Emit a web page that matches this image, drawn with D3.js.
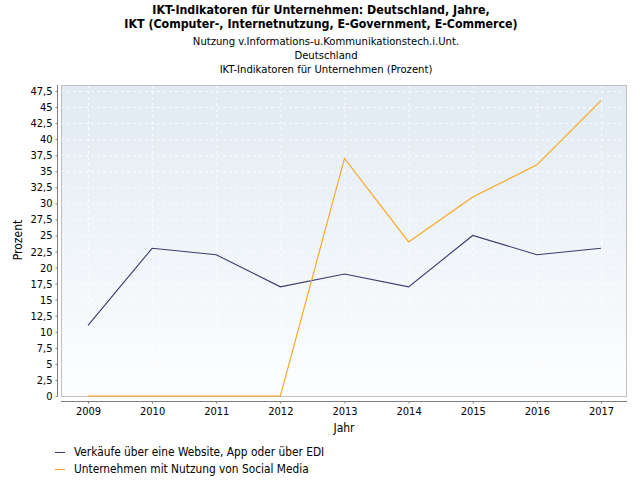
<!DOCTYPE html>
<html><head><meta charset="utf-8">
<script src="https://cdn.jsdelivr.net/npm/d3@7"></script>
<style>
body{margin:0;background:#fff;}
svg text{font-family:"DejaVu Sans Condensed","DejaVu Sans",sans-serif;font-stretch:condensed;fill:#000;}
</style></head>
<body>
<svg id="c" width="640" height="480"></svg>
<script>
const years = [2009,2010,2011,2012,2013,2014,2015,2016,2017];
const seriesNames = ["Verkäufe über eine Website, App oder über EDI","Unternehmen mit Nutzung von Social Media"];
const verkaeufe = [11,23,22,17,19,17,25,22,23];
const socialMedia = [0,0,0,0,37,24,31,36,46];
const yTicks = [0,2.5,5,7.5,10,12.5,15,17.5,20,22.5,25,27.5,30,32.5,35,37.5,40,42.5,45,47.5];
const titleLines = ["IKT-Indikatoren für Unternehmen: Deutschland, Jahre,","IKT (Computer-, Internetnutzung, E-Government, E-Commerce)"];
const subLines = ["Nutzung v.Informations-u.Kommunikationstech.i.Unt.","Deutschland","IKT-Indikatoren für Unternehmen (Prozent)"];
const colors = ["#3a3a6e","#faa31e"];

const svg = d3.select("#c");
const L=61,R=627,T=85,B=396;
const x = d3.scalePoint().domain(years).range([88,601]);
const y = d3.scaleLinear().domain([0,48.43]).range([B,T]);

// titles
titleLines.forEach((t,i)=>svg.append("text").attr("x",321).attr("y",14+i*14).attr("text-anchor","middle")
  .attr("font-size","12.3px").attr("font-weight","bold").text(t));
subLines.forEach((t,i)=>svg.append("text").attr("x",326).attr("y",45+i*14).attr("text-anchor","middle")
  .attr("font-size","11.2px").text(t));

// background gradient
const defs=svg.append("defs");
const g=defs.append("linearGradient").attr("id","bg").attr("x1",0).attr("y1",0).attr("x2",0).attr("y2",1);
g.append("stop").attr("offset","0%").attr("stop-color","#e1eaf2");
g.append("stop").attr("offset","100%").attr("stop-color","#fdfeff");
svg.append("rect").attr("x",L).attr("y",T).attr("width",R-L).attr("height",B-T).attr("fill","url(#bg)");

// grid
svg.append("g").selectAll("line").data(yTicks).join("line")
  .attr("x1",L).attr("x2",R).attr("y1",d=>y(d)+0.5).attr("y2",d=>y(d)+0.5)
  .attr("stroke","#ffffff").attr("stroke-opacity",0.8).attr("stroke-dasharray","3,3").attr("stroke-width",1);
svg.append("g").selectAll("line").data(years).join("line")
  .attr("y1",T).attr("y2",B).attr("x1",d=>x(d)+0.5).attr("x2",d=>x(d)+0.5)
  .attr("stroke","#ffffff").attr("stroke-opacity",0.8).attr("stroke-dasharray","3,3").attr("stroke-width",1);

// border
svg.append("rect").attr("x",L+0.5).attr("y",T+0.5).attr("width",R-L-1).attr("height",B-T)
  .attr("fill","none").attr("stroke","#c0c0c0");

// y axis
const ya = svg.append("g").attr("transform","translate(57.5,0)")
  .call(d3.axisLeft(y).tickValues(yTicks).tickSize(2).tickPadding(3)
    .tickFormat(d=>String(d).replace(".",",")));
ya.select(".domain").attr("stroke","#808080").attr("d",`M0,${T}V${B+0.5}`);
ya.selectAll(".tick line").attr("stroke","#808080");
ya.selectAll(".tick text").attr("font-size","11px").attr("font-family",null);

// x axis
const xa = svg.append("g").attr("transform","translate(0,401.5)")
  .call(d3.axisBottom(x).tickSize(2).tickPadding(4));
xa.select(".domain").attr("stroke","#808080").attr("d",`M${L},0H${R}`);
xa.selectAll(".tick line").attr("stroke","#808080");
xa.selectAll(".tick text").attr("font-size","11px").attr("font-family",null);

// axis labels
svg.append("text").attr("transform","translate(22,240) rotate(-90)").attr("text-anchor","middle")
  .attr("font-size","12px").text("Prozent");
svg.append("text").attr("x",344).attr("y",432).attr("text-anchor","middle").attr("font-size","12px").text("Jahr");

// lines
const line=d3.line().x((d,i)=>x(years[i])).y(d=>y(d));
[verkaeufe,socialMedia].forEach((s,i)=>svg.append("path").attr("d",line(s))
  .attr("fill","none").attr("stroke",colors[i]).attr("stroke-width",1.1));

// legend
seriesNames.forEach((n,i)=>{
  const yy=452+i*17;
  svg.append("line").attr("x1",55).attr("x2",65).attr("y1",yy+0.5).attr("y2",yy+0.5).attr("stroke",colors[i]);
  svg.append("text").attr("x",74).attr("y",yy+4).attr("font-size","11.8px").text(n);
});
</script>
</body></html>
